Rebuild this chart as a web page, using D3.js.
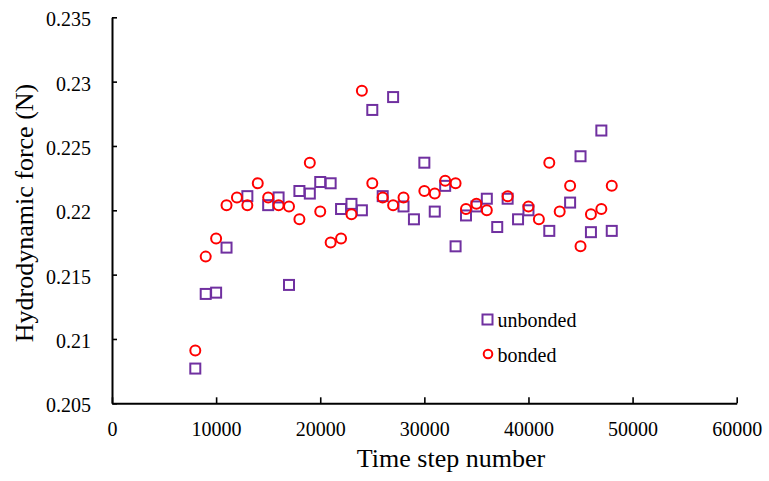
<!DOCTYPE html>
<html>
<head>
<meta charset="utf-8">
<script src="https://cdn.jsdelivr.net/npm/d3@7"></script>
<style>
  html, body { margin: 0; padding: 0; background: #fff; }
  svg { display: block; }
  text { font-family: "Liberation Serif", "DejaVu Serif", serif; }
</style>
</head>
<body>
<svg id="chart" width="769" height="481"></svg>
<script>
const unbondedSteps = [8000,9000,10000,11000,13000,15000,16000,17000,18000,19000,20000,21000,22000,23000,24000,25000,26000,27000,28000,29000,30000,31000,32000,33000,34000,35000,36000,37000,38000,39000,40000,42000,44000,45000,46000,47000,48000];
const unbondedForce = [0.2077,0.2135,0.2136,0.2171,0.2211,0.2204,0.2210,0.2142,0.2215,0.2213,0.2222,0.2221,0.2201,0.2205,0.2200,0.2278,0.2211,0.2288,0.2203,0.2193,0.2237,0.2199,0.2219,0.2172,0.2196,0.2203,0.2209,0.2187,0.2209,0.2193,0.2200,0.2184,0.2206,0.2242,0.2183,0.2262,0.2184];
const bondedSteps = [8000,9000,10000,11000,12000,13000,14000,15000,16000,17000,18000,19000,20000,21000,22000,23000,24000,25000,26000,27000,28000,30000,31000,32000,33000,34000,35000,36000,38000,40000,41000,42000,43000,44000,45000,46000,47000,48000];
const bondedForce = [0.2091,0.2164,0.2178,0.2204,0.2210,0.2204,0.2221,0.2210,0.2204,0.2203,0.2193,0.2237,0.2199,0.2175,0.2178,0.2197,0.2293,0.2221,0.2210,0.2204,0.2210,0.2215,0.2213,0.2223,0.2221,0.2201,0.2205,0.2200,0.2211,0.2203,0.2193,0.2237,0.2199,0.2219,0.2172,0.2197,0.2201,0.2219];
const xTicks = [0,10000,20000,30000,40000,50000,60000];
const yTicks = [0.205,0.21,0.215,0.22,0.225,0.23,0.235];
const yTickLabels = ["0.205","0.21","0.215","0.22","0.225","0.23","0.235"];
const seriesNames = ["unbonded","bonded"];
const xTitle = "Time step number";
const yTitle = "Hydrodynamic force (N)";

const FONT = "Liberation Serif";
const svg = d3.select("#chart");
const x = d3.scaleLinear().domain([0,60000]).range([112,736.7]);
const y = d3.scaleLinear().domain([0.205,0.235]).range([403.3,17.3]);

const purple = "#7030A0", red = "#FF0000";

// Axes
const xAxis = svg.append("g").attr("transform", `translate(0,${y(0.205)})`)
  .call(d3.axisBottom(x).tickValues(xTicks).tickFormat(d3.format("d")).tickSizeInner(-6).tickSizeOuter(0).tickPadding(19));
const yAxis = svg.append("g").attr("transform", `translate(${x(0)},0)`)
  .call(d3.axisLeft(y).tickValues(yTicks).tickFormat((d,i)=>yTickLabels[i]).tickSizeInner(-5).tickSizeOuter(0).tickPadding(21));
[xAxis, yAxis].forEach(g => {
  g.attr("font-family", FONT).attr("font-size", 20);
  g.select(".domain").attr("stroke","#000").attr("stroke-width",2);
  g.selectAll(".tick line").attr("stroke","#000").attr("stroke-width",1.6);
  g.selectAll(".tick text").attr("fill","#000").attr("font-family", FONT).attr("font-size", 20);
});
yAxis.selectAll(".tick text").attr("dy","0.43em");

// Titles
svg.append("text").attr("x",451).attr("y",467).attr("text-anchor","middle")
  .attr("font-family", FONT).attr("font-size",26).attr("fill","#000").text(xTitle);
svg.append("text").attr("transform","translate(33,213) rotate(-90)").attr("text-anchor","middle")
  .attr("font-family", FONT).attr("font-size",26).attr("fill","#000").text(yTitle);

// Data
const sq = 10;
const unb = unbondedSteps.map((s,i)=>({s, f: unbondedForce[i]}));
const bnd = bondedSteps.map((s,i)=>({s, f: bondedForce[i]}));

svg.append("g").selectAll("rect").data(unb).join("rect")
  .attr("x", d => x(d.s) - sq/2).attr("y", d => y(d.f) - sq/2)
  .attr("width", sq).attr("height", sq)
  .attr("fill","none").attr("stroke",purple).attr("stroke-width",2);

svg.append("g").selectAll("circle").data(bnd).join("circle")
  .attr("cx", d => x(d.s)).attr("cy", d => y(d.f)).attr("r", 5)
  .attr("fill","none").attr("stroke",red).attr("stroke-width",2);

// Legend
const lg = svg.append("g").attr("font-family", FONT).attr("font-size", 20);
lg.append("rect").attr("x",482.5).attr("y",314.5).attr("width",10).attr("height",10)
  .attr("fill","none").attr("stroke",purple).attr("stroke-width",2);
lg.append("text").attr("x",497.5).attr("y",326.5).attr("fill","#000").text(seriesNames[0]);
lg.append("circle").attr("cx",488).attr("cy",354).attr("r",4.3)
  .attr("fill","none").attr("stroke",red).attr("stroke-width",2);
lg.append("text").attr("x",497.5).attr("y",361.5).attr("fill","#000").text(seriesNames[1]);
</script>
</body>
</html>
